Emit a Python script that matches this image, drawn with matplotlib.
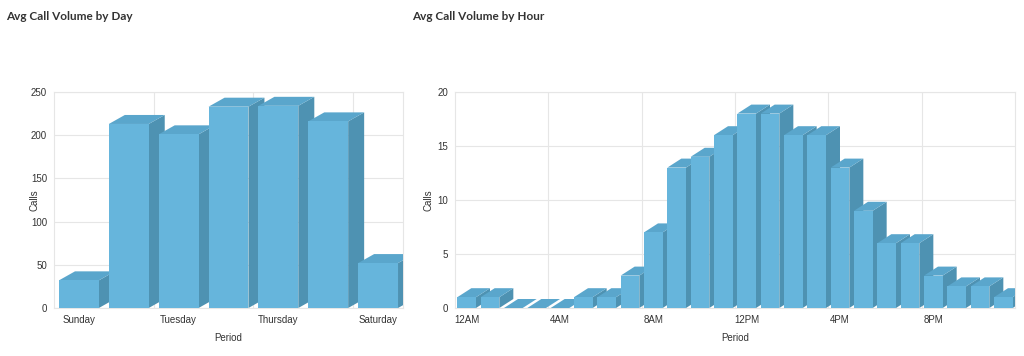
import matplotlib
matplotlib.use("Agg")
import matplotlib.pyplot as plt
from matplotlib.patches import Polygon

# data
days = ["Sunday", "Monday", "Tuesday", "Wednesday", "Thursday", "Friday", "Saturday"]
day_calls = [32, 213, 201, 233, 234, 216, 52]

hours = ["12AM", "1AM", "2AM", "3AM", "4AM", "5AM", "6AM", "7AM", "8AM", "9AM", "10AM", "11AM",
         "12PM", "1PM", "2PM", "3PM", "4PM", "5PM", "6PM", "7PM", "8PM", "9PM", "10PM", "11PM"]
hour_calls = [1, 1, 0, 0, 0, 1, 1, 3, 7, 13, 14, 16, 18, 18, 16, 16, 13, 9, 6, 6, 3, 2, 2, 1]

FRONT = "#66b5dc"
TOP = "#5aa6cc"
SIDE = "#4e92b2"
GRID = "#e6e6e6"
TXT = "#333333"
W, H = 1024, 356


def bars3d(ax, values, dx_px, dy_px, ymax, px_per_unit, px_per_y, width=0.8):
    dx = dx_px / px_per_unit
    dy = dy_px / px_per_y * ymax
    for i, v in enumerate(values):
        x0, x1 = i - width / 2, i + width / 2
        side = Polygon([(x1, 0), (x1 + dx, dy), (x1 + dx, v + dy), (x1, v)],
                       closed=True, fc=SIDE, ec="none", zorder=3 + i)
        top = Polygon([(x0, v), (x1, v), (x1 + dx, v + dy), (x0 + dx, v + dy)],
                      closed=True, fc=TOP, ec="none", zorder=3 + i)
        ax.add_patch(side)
        ax.add_patch(top)
        ax.bar(i, v, width=width, color=FRONT, zorder=3 + i, linewidth=0)


def style(ax, n, yticks, xt, xl, vlines, ylab_x):
    ax.set_xlim(-0.5, n - 0.5)
    ax.set_ylim(0, yticks[-1])
    ax.set_yticks(yticks)
    ax.set_xticks(xt)
    ax.set_xticklabels(xl)
    ax.tick_params(length=0, labelsize=7, colors=TXT, pad=5)
    for s in ax.spines.values():
        s.set_color(GRID)
        s.set_linewidth(0.8)
    for y in yticks:
        ax.axhline(y, color=GRID, lw=0.8, zorder=1)
    for x in vlines:
        ax.axvline(x, color=GRID, lw=0.8, zorder=1)
    ax.set_xlabel("Period", fontsize=7, color=TXT, labelpad=6)
    ax.set_ylabel("Calls", fontsize=7, color=TXT)
    ax.yaxis.set_label_coords(ylab_x, 0.5)


plt.rcParams["font.family"] = ["Liberation Sans", "DejaVu Sans"]
fig = plt.figure(figsize=(10.24, 3.56), dpi=100)

# left panel: by day
lx0, lx1, ytop, ybot = 54, 403, 92, 308
ax1 = fig.add_axes([lx0 / W, (H - ybot) / H, (lx1 - lx0) / W, (ybot - ytop) / H])
bars3d(ax1, day_calls, 16, 9, 250, (lx1 - lx0) / len(days), ybot - ytop)
style(ax1, len(days), [0, 50, 100, 150, 200, 250],
      [0, 2, 4, 6], [days[i] for i in [0, 2, 4, 6]], [1.5, 3.5, 5.5],
      (40 - lx0) / (lx1 - lx0))

# right panel: by hour
rx0, rx1 = 455, 1015
ax2 = fig.add_axes([rx0 / W, (H - ybot) / H, (rx1 - rx0) / W, (ybot - ytop) / H])
bars3d(ax2, hour_calls, 14, 9, 20, (rx1 - rx0) / len(hours), ybot - ytop)
style(ax2, len(hours), [0, 5, 10, 15, 20],
      list(range(0, 24, 4)), [hours[i] for i in range(0, 24, 4)], [3.5, 7.5, 11.5, 15.5, 19.5],
      (433 - rx0) / (rx1 - rx0))

fig.text(6 / W, 1 - 17 / H, "Avg Call Volume by Day", fontsize=8.5, fontweight="bold",
         color=TXT, family=["Lato", "DejaVu Sans"], va="center")
fig.text(412 / W, 1 - 17 / H, "Avg Call Volume by Hour", fontsize=8.5, fontweight="bold",
         color=TXT, family=["Lato", "DejaVu Sans"], va="center")

fig.savefig("out.png", dpi=100, facecolor="white")
